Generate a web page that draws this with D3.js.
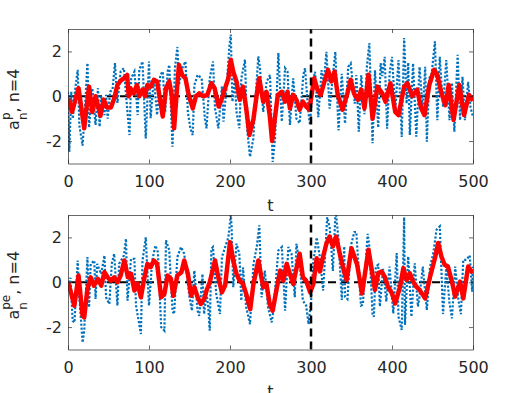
<!DOCTYPE html>
<html>
<head>
<meta charset="utf-8">
<script src="https://cdn.jsdelivr.net/npm/d3@7"></script>
<style>
	body { margin: 0; background: #fff; }
	text { font-family: "DejaVu Sans", sans-serif; }
</style>
</head>
<body>
<div></div>
<script>
var width = 513;
var height = 393;

var xTicks = [0, 100, 200, 300, 400, 500];
var yTicks = [-2, 0, 2];
var splitT = 300;

var blueTopT = [0, 1.6, 4, 6, 8.5, 12, 14, 18, 21, 24, 26, 30, 34, 37, 39, 41, 45, 47, 49, 52, 55, 58, 61, 65, 69, 73, 76, 78, 82, 86, 88, 92, 96, 100, 102, 106, 110, 114, 117, 120, 123, 125, 129, 132, 135, 137, 141, 145, 148, 151, 154, 156, 160, 165, 169,
	171, 175, 179, 181.5, 185.6, 190, 192, 196, 199, 201, 203, 206, 208, 211.5, 214, 218.5, 221, 224.7, 228.8, 230.9, 235, 237, 241, 245.3, 249.4, 252.7, 255.6, 259.7, 264, 268, 271, 274, 278, 282, 286, 290.5, 292.6, 296.7, 298.8, 300,
	303, 305, 309, 313, 316, 319, 323, 327, 330, 334, 338, 342, 346, 349, 354, 356, 359, 362, 366, 369, 372, 376, 379, 383, 386, 388, 391, 394, 397, 400, 404, 408, 412, 415, 418, 420, 422, 426, 430, 434, 438, 441, 443, 446, 449, 453, 456, 459, 463, 467, 471, 474, 477, 481, 484, 487, 490, 494, 497, 500];
var blueTopV = [0.2, -2.48, 0.2, -1.0, 0.2, 1.18, -1.3, -2.2, -0.5, 1.48, -1.4, 0.36, -1.28, 0.36, -1.36, 0.0, -0.84, 0.06, -1.0, 0.2, 0.3, 1.48, -0.3, 1.1, 1.25, -0.54, -1.73, 0.8, 1.1, -0.84, 1.18, 1.55, -1.88, 1.55, -0.98, 0.8, -0.84, 0.95, 1.1, -0.7, 1.1, 1.4, -2.25, 1.25, 2.2, 0.5, 1.25, 1.55, -0.7, -1.43, -1.73, 0.5, 0.95, 0.8, -1.0,
	-1.43, 0.8, 1.55, -0.54, -1.43, 0.43, -1.13, 0.5, 2.15, 2.75, -0.24, 0.8, -0.7, -1.43, 0.8, 1.63, -1.43, -2.7, -1.88, -0.4, 1.78, 1.25, -0.7, 0.66, 0.95, -2.93, -1.88, 1.93, -1.13, 1.25, 1.1, -1.28, 0.8, -1.0, -1.2, 0.95, 1.25, -0.7, -1.28, -0.6,
	0.8, 1.09, -0.93, 1.16, 0.6, 1.98, -0.55, 0.9, 1.98, -1.52, 1.0, -1.22, 1.31, 1.46, -0.33, 0.94, -1.58, 0.94, -0.8, 1.31, 2.37, -2.1, 1.16, -1.4, 1.48, 0.9, 1.76, -1.45, 1.01, 1.76, -0.63, 1.61, -1.82, 2.6, -0.33, 1.5, -1.73, 1.46, -1.8, 1.31, -0.63, 1.31, -2.03, 0.8, 1.01, 2.45, -1.07, 1.76, -0.48, 1.61, -1.07, 0.6, -1.58, 1.85, -1.07, 0.87, -1.07, 0.64, -0.5, -0.93];

var redTopT = [0, 5, 13, 20, 26, 30, 34, 40, 44, 48, 53, 57, 61, 65, 69, 73, 75, 77, 81, 85, 88, 92, 95, 98, 102, 106, 110, 117, 121, 125, 128, 131, 134, 137, 141, 145, 149, 154, 158, 162, 167, 172, 177, 181, 186, 190, 194, 198, 201, 204, 208, 212, 216, 220, 224, 229, 233, 236, 241, 245, 249, 252, 255, 259, 264, 268, 271, 274, 278, 282, 286, 290, 294, 298, 301, 304, 308, 312, 316, 321, 325, 329, 333, 339, 345, 349, 353, 358, 362, 366, 371, 376, 382, 388, 392, 398, 404, 408, 415, 419, 425, 431, 436, 440, 446, 452, 456, 461, 466, 470, 476, 483, 489, 495, 500];
var redTopV = [-0.1, -0.7, 0.36, -1.43, 0.43, -0.7, 0.0, -0.87, -0.15, -0.5, -0.5, -0.1, 0.5, 0.7, 0.8, 0.95, 0.0, 0.36, 0.13, 0.5, 0.0, 0.3, 0.0, 0.5, 0.43, 0.73, 0.66, -0.9, 0.36, 0.66, 0.06, -1.43, 0.06, 1.4, 0.95, 0.8, 0.06, -0.54, 0.0, 0.13, 0.0, 0.06, 0.58, 0.36, -0.46, -0.1, 0.36, 0.8, 1.63, 1.1, 0.66, -0.16, 0.43, -0.54, -1.73, -1.0, 0.06, 0.8, -0.24, 0.2, -0.84, -2.0, -1.1, 0.06, 0.2, -0.24, 0.2, -0.54, 0.06, -0.16, -0.6, -0.24, -0.46, -0.6, 0.13, 0.8, 0.3, 0.06, 0.58, 1.18, 0.66, 1.1, 0.06, -0.6, 0.13, 0.73, 0.13, -0.16, 0.3, -0.54, 0.96, -1.0, 0.43, 0.13, -0.24, 0.58, -0.7, -0.84, 0.43, 0.58, 0.0, 0.3, -0.54, -0.84, 0.5, 1.18, 0.95, 0.13, -0.4, 0.5, -1.06, 0.5, -0.84, 0.06, -0.2];

var blueBotT = [0, 3, 5.8, 8, 12, 14, 18, 20, 24, 26, 28, 32.5, 34, 36, 41, 45, 47, 51, 54, 57, 61, 63, 69, 71.6, 73.5, 77.8, 82, 84, 90, 92, 96, 100, 104, 108, 111, 115, 119, 121, 125, 129, 131, 135, 139.5, 143.5, 150, 153, 156, 160, 162, 166, 168,
	171, 173, 175, 177, 179, 183, 187.6, 190, 194, 198, 201, 202, 204, 208, 211.5, 214, 216, 220, 224.7, 229, 233, 236.2, 239, 243, 247, 251.5, 253.5, 259.7, 264, 268, 272, 276, 280, 282, 286, 290, 294, 297, 300,
	303, 305, 307, 311, 315, 320, 323, 325, 327, 330, 331, 334, 338, 341, 342, 345, 349, 353.5, 356, 361.7, 364, 370, 372, 376, 377.6, 380, 383, 385, 389, 393, 397, 401.6, 405.8, 408, 412, 415, 416, 420, 424, 428, 432, 434, 438, 443, 447, 451, 455, 459, 463, 467, 471, 474, 478, 482, 485, 488, 492, 496, 499, 500];
var blueBotV = [-0.37, 0.2, -1.72, -1.8, 0.97, -0.67, -2.69, -2.16, 1.12, -1.12, 0.82, 0.97, -0.75, 0.82, 0.37, 1.19, -0.67, -0.97, 0.82, 1.27, -1.04, 0.82, 1.19, 1.94, -0.82, 1.04, 1.04, -1.04, -2.31, 0.97, 2.0, -1.04, 0.97, 1.64, 1.34, -2.0, -2.16, 1.87, 1.42, -1.27, -1.42, 1.12, 1.57, 1.27, -0.67, -1.27, 0.52, -1.27, -1.5, 0.37, -1.42,
	-0.5, -1.04, -2.16, 1.49, 1.57, -0.52, -1.42, 1.12, 1.57, 2.0, 3.0, 2.46, -0.22, 1.72, 1.27, -0.82, 0.67, -1.12, -1.87, 0.82, 1.57, 2.54, -0.67, 0.52, -1.12, -1.79, -1.27, 1.42, 1.57, -1.27, 1.57, 1.27, -0.67, 1.72, 0.82, -0.82, -1.04, -1.87, -0.9,
	1.0, 1.42, 2.0, 1.12, -0.37, 2.9, 2.46, 1.57, 0.5, 2.87, 3.0, 1.9, -0.79, 1.6, -0.64, -0.75, 1.6, 2.24, 2.24, -1.04, -1.0, 2.16, 1.6, -1.42, -1.54, 0.7, 0.78, -1.08, 0.6, -0.85, 0.7, -1.39, 1.3, -1.54, -2.13, 2.9, -1.9, 1.15, -1.54, 0.85, -1.08, -0.64, 0.7, -1.24, 0.7, 1.3, 2.34, 2.49, -1.42, 0.7, -0.94, -1.61, 0.7, -0.79, -1.42, 1.0, 1.0, 1.2, -0.42, 0.7];

var redBotT = [0, 3, 7.8, 13, 18, 20, 24, 28, 32, 37, 41, 45, 49, 53, 57, 61, 65, 69.5, 74, 78, 82, 86, 90, 94, 98, 102, 106, 110, 115, 119, 123, 127, 130, 135, 140, 143.5, 148, 152, 156, 160, 164, 168, 171, 175, 181.5, 186, 190, 194, 200, 204, 208, 212, 216, 220, 225, 229, 235, 241, 245, 249, 252.7, 258, 262, 266, 270, 274, 278, 282, 286, 290, 294, 299, 303, 307, 311, 315, 319, 323, 327, 331, 336, 340, 344, 350, 357, 363, 371, 379, 383, 387, 391, 395, 400, 404, 410, 414, 418, 422, 426, 430, 434, 441, 447, 453, 457, 461, 465, 469, 474, 478, 484, 488, 494, 500];
var redBotV = [0.0, -0.37, -1.05, 0.3, -1.5, -1.57, -0.3, 0.22, -0.15, 0.15, -0.15, 0.45, 0.22, 0.07, 0.22, 0.0, 0.3, 0.97, 0.22, 0.37, -0.37, -0.07, -0.67, 0.15, 0.82, 0.67, 0.97, 0.82, -0.67, -0.52, 0.3, 0.15, -0.6, 0.3, 0.45, 0.97, 0.37, -0.6, -0.22, -0.67, -0.97, -0.75, -0.37, 0.0, 0.97, 0.15, -0.45, -0.15, 1.79, 0.97, 0.37, 0.07, -0.07, -0.52, -1.2, -0.07, 0.97, -0.22, -0.07, -0.97, -1.27, -0.22, 0.52, 0.07, 0.82, 0.37, -0.07, 0.6, 1.27, 0.22, 0.07, -0.45, -0.07, 1.07, 0.48, 1.15, 1.72, 2.04, 1.6, 2.04, 1.2, 0.6, 0.1, 1.52, 0.78, -0.5, 1.45, -0.34, 0.4, 0.48, 0.25, -0.2, -0.5, -0.94, -0.2, 0.63, 0.1, 0.4, 0.03, -0.2, -0.34, -0.72, 0.25, 1.07, 1.75, 1.15, 0.78, 0.7, 0.03, -0.64, 0.03, -0.72, 0.7, 0.4];

var left = 68;
var right = 473;
var ph = 134.5;

var svg = d3.select("div")
	.append("svg")
	.attr("width", width)
	.attr("height", height)
	.style("display", "block");

svg.append("rect").attr("width", width).attr("height", height).attr("fill", "#fff");

var x = d3.scaleLinear().domain([0, 500]).range([left, right]);
var y = d3.scaleLinear().domain([-3, 3]).range([ph, 0]);

var line = d3.line()
	.x(d => x(d[0]))
	.y(d => y(d[1]));

var drawPanel = (top, id, blueT, blueV, redT, redV, sup) => {
	var g = svg.append("g").attr("transform", "translate(0," + top + ")");

	g.append("clipPath").attr("id", id)
		.append("rect")
		.attr("x", left).attr("y", 0)
		.attr("width", right - left).attr("height", ph);

	var plot = g.append("g").attr("clip-path", "url(#" + id + ")");

	plot.append("line")
		.attr("x1", x(0)).attr("x2", x(500))
		.attr("y1", y(0)).attr("y2", y(0))
		.attr("stroke", "#000")
		.attr("stroke-width", 2)
		.attr("stroke-dasharray", "8,5");

	plot.append("path")
		.datum(d3.zip(blueT, blueV))
		.attr("d", line)
		.attr("fill", "none")
		.attr("stroke", "#0072BD")
		.attr("stroke-width", 2.2)
		.attr("stroke-dasharray", "2.2,1.8");

	plot.append("path")
		.datum(d3.zip(redT, redV))
		.attr("d", line)
		.attr("fill", "none")
		.attr("stroke", "#ff0000")
		.attr("stroke-width", 4.5)
		.attr("stroke-linejoin", "round");

	plot.append("line")
		.attr("x1", x(splitT)).attr("x2", x(splitT))
		.attr("y1", y(-3)).attr("y2", y(3))
		.attr("stroke", "#000")
		.attr("stroke-width", 2.5)
		.attr("stroke-dasharray", "8,5");

	var axes = [
		[d3.axisBottom(x).tickValues(xTicks).tickFormat(d => String(d)).tickPadding(12), "translate(0," + ph + ")"],
		[d3.axisTop(x).tickValues(xTicks).tickFormat(""), "translate(0,0)"],
		[d3.axisLeft(y).tickValues(yTicks).tickFormat(d => String(d)).tickPadding(6), "translate(" + left + ",0)"],
		[d3.axisRight(y).tickValues(yTicks).tickFormat(""), "translate(" + right + ",0)"]
	];
	axes.forEach(a => {
		var ax = g.append("g")
			.attr("transform", a[1])
			.call(a[0].tickSizeInner(-4).tickSizeOuter(0));
		ax.select(".domain").attr("stroke", "#262626").attr("stroke-width", 0.7);
		ax.selectAll(".tick line").attr("stroke", "#262626").attr("stroke-width", 0.7);
		ax.selectAll("text")
			.attr("font-size", 16)
			.attr("font-family", "DejaVu Sans")
			.attr("fill", "#262626");
	});

	g.append("text")
		.attr("x", (left + right) / 2)
		.attr("y", ph + 47)
		.attr("text-anchor", "middle")
		.attr("font-size", 16)
		.attr("fill", "#262626")
		.text("t");

	// y label: a with stacked super/subscript, then ", n=4"
	var lab = g.append("text")
		.attr("font-size", 16)
		.attr("fill", "#262626");
	lab.append("tspan").text("a");
	var supSpan = lab.append("tspan").attr("font-size", 12).attr("dy", -9).text(sup);
	var supW = supSpan.node().getComputedTextLength();
	var subSpan = lab.append("tspan").attr("font-size", 12).attr("dx", -supW).attr("dy", 17).text("n");
	var subW = subSpan.node().getComputedTextLength();
	lab.append("tspan").attr("dx", Math.max(0, supW - subW)).attr("dy", -8).text(", n=4");
	var w = lab.node().getComputedTextLength() + Math.max(0, supW - subW) - supW;
	lab.attr("transform", "translate(18.5," + (ph / 2 + 3 + w / 2) + ") rotate(-90)");
};

drawPanel(29, "clipTop", blueTopT, blueTopV, redTopT, redTopV, "p");
drawPanel(215, "clipBot", blueBotT, blueBotV, redBotT, redBotV, "pe");
</script>
</body>
</html>
